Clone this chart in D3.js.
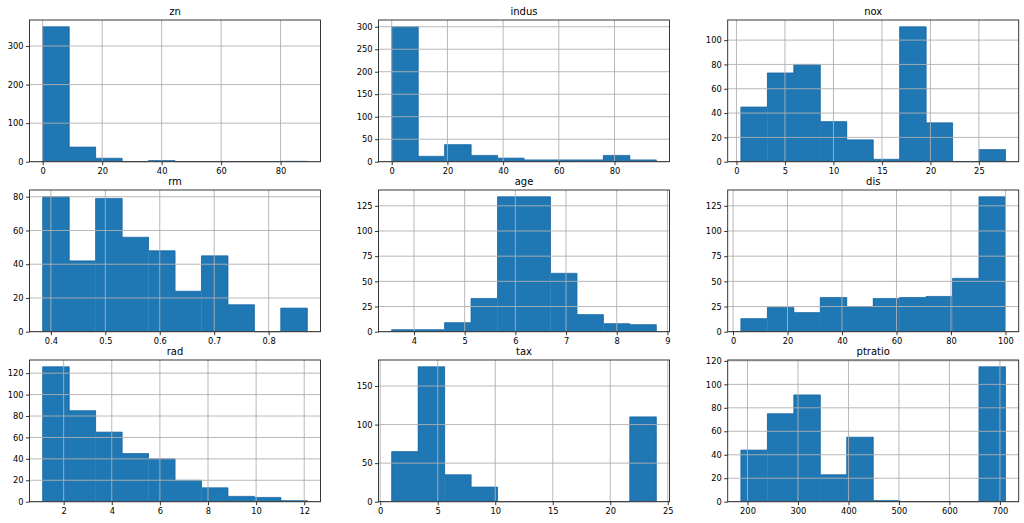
<!DOCTYPE html>
<html>
<head>
<meta charset="utf-8">
<script src="https://cdn.jsdelivr.net/npm/d3@7"></script>
<style>
  body { margin: 0; background: #fff; }
  svg { display: block; font-family: "DejaVu Sans", sans-serif; }
</style>
</head>
<body>
<svg id="chart" width="1024" height="523"></svg>
<script>
// panel titles (as printed in the reference)
const titles = ["zn", "indus", "nox", "rm", "age", "dis", "rad", "tax", "ptratio"];

// histogram range per panel: [min, max], 10 equal bins
const ranges = [
  [0.00632, 88.9762],
  [0, 95],
  [0.46, 27.74],
  [0.385, 0.871],
  [3.561, 8.78],
  [2.9, 100],
  [1.1296, 12.1265],
  [1, 24],
  [187, 711]
];

// bin counts
const counts = [
  [350, 38, 9, 0, 3, 0, 0, 0, 0, 1],
  [300, 12, 38, 14, 8, 4, 4, 4, 14, 4],
  [45, 73, 80, 33, 18, 2, 111, 32, 0, 10],
  [80, 42, 79, 56, 48, 24, 45, 16, 0, 14],
  [2, 2, 9, 33, 134, 134, 58, 17, 8, 7],
  [13, 24, 19, 34, 25, 33, 34, 35, 53, 134],
  [126, 85, 65, 45, 40, 20, 13, 5, 4, 1],
  [65, 175, 35, 19, 0, 0, 0, 0, 0, 110],
  [44, 75, 91, 23, 55, 1, 0, 0, 0, 115]
];

// tick values
const xTicks = [
  [0, 20, 40, 60, 80],
  [0, 20, 40, 60, 80],
  [0, 5, 10, 15, 20, 25],
  [0.4, 0.5, 0.6, 0.7, 0.8],
  [4, 5, 6, 7, 8, 9],
  [0, 20, 40, 60, 80, 100],
  [2, 4, 6, 8, 10, 12],
  [0, 5, 10, 15, 20, 25],
  [200, 300, 400, 500, 600, 700]
];
const yTicks = [
  [0, 100, 200, 300],
  [0, 50, 100, 150, 200, 250, 300],
  [0, 20, 40, 60, 80, 100],
  [0, 20, 40, 60, 80],
  [0, 25, 50, 75, 100, 125],
  [0, 25, 50, 75, 100, 125],
  [0, 20, 40, 60, 80, 100, 120],
  [0, 50, 100, 150],
  [0, 20, 40, 60, 80, 100, 120]
];

// layout
const colLeft = [29.5, 378.5, 727.7];
const rowTop = [20, 190, 360];
const pw = 291, ph = 141.7;
const barColor = "#1f77b4";

const svg = d3.select("#chart");

titles.forEach((title, i) => {
  const x0 = colLeft[i % 3], y0 = rowTop[Math.floor(i / 3)];
  const [lo, hi] = ranges[i];
  const c = counts[i];
  const step = (hi - lo) / c.length;
  const bins = c.map((n, k) => ({ x0: lo + k * step, x1: lo + (k + 1) * step, n }));

  const pad = (hi - lo) * 0.05;
  const x = d3.scaleLinear().domain([lo - pad, hi + pad]).range([0, pw]);
  const y = d3.scaleLinear().domain([0, d3.max(c) * 1.05]).range([ph, 0]);

  const g = svg.append("g").attr("transform", `translate(${x0},${y0})`);

  // bars (overlap a hair so no seams show)
  g.selectAll("rect.bar").data(bins.filter(b => b.n > 0)).join("rect")
    .attr("class", "bar")
    .attr("x", d => x(d.x0) - 0.2)
    .attr("width", d => x(d.x1) - x(d.x0) + 0.4)
    .attr("y", d => y(d.n))
    .attr("height", d => y(0) - y(d.n))
    .attr("fill", barColor);

  // thin darker outline of the step shape
  const pts = [[lo, 0]].concat(bins.map(b => [b.x0, b.n]), [[hi, c[c.length - 1]], [hi, 0]]);
  const outline = d3.line().x(d => x(d[0])).y(d => y(d[1])).curve(d3.curveStepAfter);
  g.append("path")
    .attr("d", outline(pts))
    .attr("fill", "none")
    .attr("stroke", "#1764a3")
    .attr("stroke-width", 0.7);

  // grid drawn above bars
  g.append("g").selectAll("line").data(xTicks[i]).join("line")
    .attr("x1", d => x(d)).attr("x2", d => x(d))
    .attr("y1", 0).attr("y2", ph)
    .attr("stroke", "#b0b0b0").attr("stroke-width", 0.9);
  g.append("g").selectAll("line").data(yTicks[i]).join("line")
    .attr("x1", 0).attr("x2", pw)
    .attr("y1", d => y(d)).attr("y2", d => y(d))
    .attr("stroke", "#b0b0b0").attr("stroke-width", 0.9);

  // axes
  const xa = g.append("g").attr("transform", `translate(0,${ph})`)
    .call(d3.axisBottom(x).tickValues(xTicks[i]).tickFormat(d => String(d)).tickSize(3.5).tickPadding(2.5));
  const ya = g.append("g")
    .call(d3.axisLeft(y).tickValues(yTicks[i]).tickFormat(d => String(d)).tickSize(3.5).tickPadding(2.5));
  [xa, ya].forEach(a => {
    a.select(".domain").remove();
    a.selectAll(".tick line").attr("stroke", "#000").attr("stroke-width", 0.8);
    a.selectAll(".tick text").attr("fill", "#000")
      .style("font-family", "DejaVu Sans").style("font-size", "8.3px");
  });

  // frame
  g.append("rect").attr("x", 0).attr("y", 0).attr("width", pw).attr("height", ph)
    .attr("fill", "none").attr("stroke", "#222").attr("stroke-width", 0.9);

  // title
  g.append("text").attr("x", pw / 2).attr("y", -5)
    .attr("text-anchor", "middle")
    .style("font-size", "10px").attr("fill", "#000")
    .text(title);
});
</script>
</body>
</html>
